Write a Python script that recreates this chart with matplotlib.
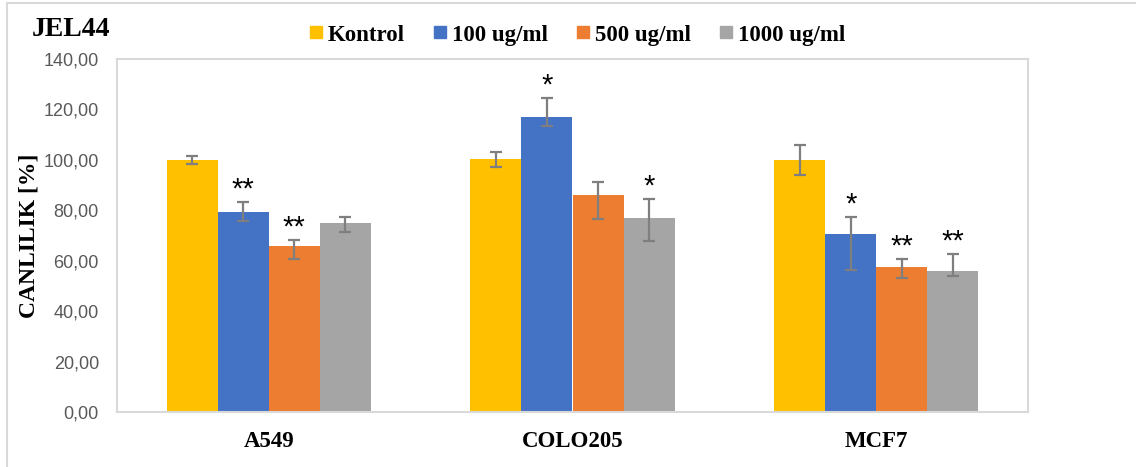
import numpy as np
import matplotlib.pyplot as plt
from matplotlib.lines import Line2D

cells = ['A549', 'COLO205', 'MCF7']
groups = ['Kontrol', '100 ug/ml', '500 ug/ml', '1000 ug/ml']
colors = ['#FFC000', '#4472C4', '#ED7D31', '#A5A5A5']

# viability values per group (rows) and cell line (columns)
kontrol = [100.0, 100.3, 100.1]
ug100 = [79.2, 116.9, 70.5]
ug500 = [65.9, 86.1, 57.7]
ug1000 = [75.0, 77.1, 56.1]

# error bars, lower / upper distance
err_lo = [[1.6, 3.1, 6.1], [3.3, 3.3, 14.2], [5.2, 9.5, 4.4], [3.5, 9.1, 2.0]]
err_hi = [[1.7, 3.0, 5.9], [3.9, 7.6, 7.0], [2.4, 5.0, 3.0], [2.3, 7.4, 6.6]]

stars = [['', '', ''], ['**', '*', '*'], ['**', '', '**'], ['', '*', '**']]

values = [kontrol, ug100, ug500, ug1000]

fig = plt.figure(figsize=(11.36, 4.67), dpi=100)
ax = fig.add_axes([117 / 1136, 55 / 467, 911 / 1136, 353 / 467])

x = np.arange(len(cells))
w = 0.168
for i, (vals, col) in enumerate(zip(values, colors)):
    pos = x + (i - 1.5) * w
    ax.bar(pos, vals, width=w, color=col, label=groups[i], zorder=2)
    ax.errorbar(pos, vals, yerr=[err_lo[i], err_hi[i]], fmt='none', ecolor='#7F7F7F',
                elinewidth=1.6, capsize=4.5, capthick=1.6, zorder=3)
    for p, v, e, s in zip(pos, vals, err_hi[i], stars[i]):
        if s:
            ax.annotate(s, (p, v + e), xytext=(0, 9), textcoords='offset points',
                        ha='center', va='center', fontsize=21, family='Liberation Sans')

ax.set_xlim(-0.5, 2.5)
ax.set_ylim(0, 140)
ax.set_yticks(np.arange(0, 141, 20))
ax.set_yticklabels([f'{v:.2f}'.replace('.', ',') for v in np.arange(0, 141, 20)],
                   family='Liberation Sans', fontsize=13, color='#595959')
ax.set_xticks(x)
ax.set_xticklabels(cells, family='Liberation Serif', fontweight='bold', fontsize=16.5)
ax.tick_params(axis='both', length=0)
ax.tick_params(axis='y', pad=13)
ax.tick_params(axis='x', pad=14)
for sp in ax.spines.values():
    sp.set_color('#D9D9D9')
    sp.set_linewidth(1.5)

ax.set_ylabel('CANLILIK [%]', family='Liberation Serif', fontweight='bold', fontsize=17)
ax.yaxis.set_label_coords(-78 / 911, 0.5)

handles = [Line2D([], [], marker='s', linestyle='none', markersize=9,
                  markerfacecolor=c, markeredgecolor=c) for c in colors]
fig.legend(handles, groups, loc='center', bbox_to_anchor=(576 / 1136, 1 - 35 / 467), ncol=4,
           frameon=False, handletextpad=0.1, columnspacing=1.15, handlelength=0.8,
           prop={'family': 'Liberation Serif', 'weight': 'bold', 'size': 16.5})

fig.text(32 / 1136, 1 - 30 / 467, 'JEL44', family='Liberation Serif', fontweight='bold',
         fontsize=20, va='center', ha='left')

# chart frame (cropped)
fig.add_artist(Line2D([7 / 1136, 1], [1 - 3 / 467, 1 - 3 / 467], color='#D9D9D9', lw=1.5))
fig.add_artist(Line2D([7 / 1136, 7 / 1136], [0, 1 - 3 / 467], color='#D9D9D9', lw=1.5))

plt.savefig('out.png', dpi=100)
